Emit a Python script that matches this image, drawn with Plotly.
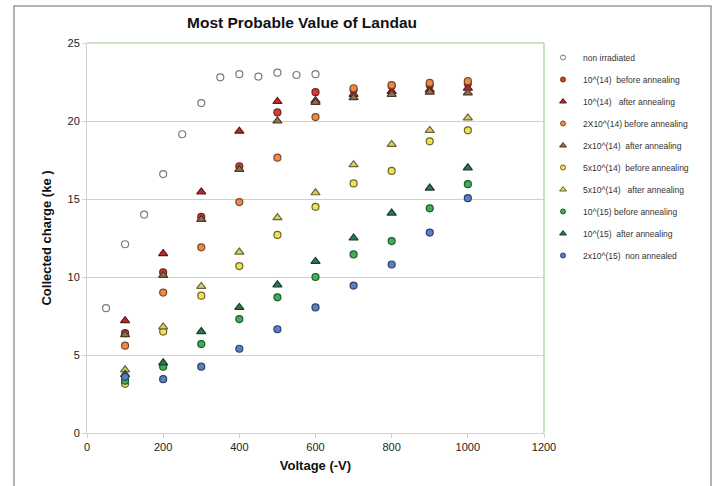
import plotly.graph_objects as go

voltage_non = [50, 100, 150, 200, 250, 300, 350, 400, 450, 500, 550, 600]
q_non = [8.0, 12.1, 14.0, 16.6, 19.15, 21.15, 22.8, 23.0, 22.85, 23.1, 22.95, 23.0]

voltage = [100, 200, 300, 400, 500, 600, 700, 800, 900, 1000]
q_1e14_before = [6.4, 10.3, 13.85, 17.1, 20.55, 21.85, 22.0, 22.25, 22.3, 22.4]
q_1e14_after = [7.2, 11.5, 15.45, 19.35, 21.25, 21.3, 21.7, 21.9, 22.0, 22.1]
q_2e14_before = [5.6, 9.0, 11.9, 14.8, 17.65, 20.25, 22.1, 22.3, 22.45, 22.55]
q_2e14_after = [6.3, 10.1, 13.7, 16.9, 20.0, 21.2, 21.5, 21.7, 21.85, 21.8]
q_5e14_before = [3.15, 6.5, 8.8, 10.7, 12.7, 14.5, 16.0, 16.8, 18.7, 19.4]
q_5e14_after = [4.05, 6.8, 9.4, 11.6, 13.8, 15.4, 17.2, 18.5, 19.4, 20.2]
q_1e15_before = [3.35, 4.25, 5.7, 7.3, 8.7, 10.0, 11.45, 12.3, 14.4, 15.95]
q_1e15_after = [3.75, 4.5, 6.5, 8.05, 9.5, 11.0, 12.5, 14.1, 15.7, 17.0]
q_2e15_non = [3.6, 3.45, 4.25, 5.4, 6.65, 8.05, 9.45, 10.8, 12.85, 15.05]

y_ticks = [0, 5, 10, 15, 20, 25]
x_ticks = [0, 200, 400, 600, 800, 1000, 1200]

series = [
    ("non irradiated", voltage_non, q_non, "circle", "#ffffff", "#7a7a7a"),
    ("10^(14)  before annealing", voltage, q_1e14_before, "circle", "#d93a2e", "#6b2a20"),
    ("10^(14)   after annealing", voltage, q_1e14_after, "triangle-up", "#c0262c", "#5a1a1a"),
    ("2X10^(14) before annealing", voltage, q_2e14_before, "circle", "#ee8a45", "#7a4a2a"),
    ("2x10^(14)  after annealing", voltage, q_2e14_after, "triangle-up", "#94704f", "#4a3828"),
    ("5x10^(14)  before annealing", voltage, q_5e14_before, "circle", "#f2e34a", "#6b6530"),
    ("5x10^(14)   after annealing", voltage, q_5e14_after, "triangle-up", "#d8d070", "#6b6530"),
    ("10^(15) before annealing", voltage, q_1e15_before, "circle", "#3fae55", "#1f5a2e"),
    ("10^(15)  after annealing", voltage, q_1e15_after, "triangle-up", "#2e7a4e", "#1a3d28"),
    ("2x10^(15)  non annealed", voltage, q_2e15_non, "circle", "#5a7fc2", "#2e3f66"),
]

fig = go.Figure()
for i, (name, xs, ys, sym, fill, line) in enumerate(series):
    fig.add_trace(go.Scatter(
        x=xs, y=ys, mode="markers", name=name, legendgroup=f"g{i}", showlegend=False,
        marker=dict(symbol=sym, size=7 if sym == "circle" else 8, color=fill,
                    line=dict(color=line, width=1.2)),
    ))
    # legend entry with smaller marker
    fig.add_trace(go.Scatter(
        x=[None], y=[None], mode="markers", name=name, legendgroup=f"g{i}", showlegend=True,
        marker=dict(symbol=sym, size=5 if sym == "circle" else 6, color=fill,
                    line=dict(color=line, width=1)),
    ))

fig.update_layout(
    width=718, height=486,
    margin=dict(l=87, r=174, t=43, b=53),
    paper_bgcolor="white", plot_bgcolor="white",
    font=dict(family="Liberation Sans, Arial, sans-serif", color="#222222"),
    title=dict(text="<b>Most Probable Value of Landau</b>", x=302 / 718, xanchor="center",
               y=1 - 23 / 486, yanchor="middle", font=dict(size=15.5, color="#111111")),
    xaxis=dict(range=[0, 1200], tickvals=x_ticks, showgrid=False, zeroline=False,
               showline=True, linecolor="#d8d0cc", ticks="outside", ticklen=4, tickcolor="#d8d0cc",
               tickfont=dict(size=11, color="#222222"),
               title=dict(text="<b>Voltage (-V)</b>", font=dict(size=13, color="#111111"), standoff=8)),
    yaxis=dict(range=[0, 25], tickvals=y_ticks, showgrid=True, gridcolor="#d9cdc8", gridwidth=1.3,
               zeroline=False, showline=True, linecolor="#d8d0cc", ticks="outside", ticklen=4,
               tickcolor="#d8d0cc", tickfont=dict(size=11, color="#222222"),
               title=dict(text="<b>Collected charge (ke )</b>", font=dict(size=13, color="#111111"), standoff=12)),
    legend=dict(x=(543 - 87) / 457, y=1.0, xanchor="left", yanchor="top",
                font=dict(size=8.5, color="#333333"),
                tracegroupgap=3, itemwidth=30, bgcolor="rgba(0,0,0,0)"),
    showlegend=True,
)

# plot-area border (top and right light green)
fig.add_shape(type="line", xref="paper", yref="paper", x0=0, x1=1, y0=1, y1=1,
              line=dict(color="#b8dca8", width=1.5))
fig.add_shape(type="line", xref="paper", yref="paper", x0=1, x1=1, y0=0, y1=1,
              line=dict(color="#b8dca8", width=1.5))
# outer chart frame
fig.add_shape(type="rect", xref="paper", yref="paper",
              x0=(14 - 87) / 457, x1=(711 - 87) / 457, y0=-0.2, y1=(433 - 6) / 390,
              line=dict(color="#9a9a9a", width=1.5), fillcolor="rgba(0,0,0,0)", layer="below")

fig.write_html("out.html")
